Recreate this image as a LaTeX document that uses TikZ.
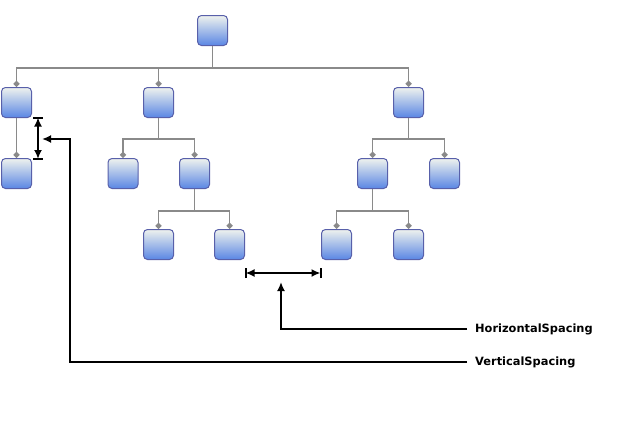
\documentclass[tikz,border=0pt]{standalone}
\usepackage{fontspec}
\setmainfont{DejaVu Sans}
\usetikzlibrary{arrows.meta}
\definecolor{boxtop}{HTML}{EEF2EE}
\definecolor{boxbot}{HTML}{5A86E4}
\definecolor{boxline}{HTML}{5860AA}
\definecolor{conncol}{HTML}{8A8A8A}
\tikzset{
  box/.style={draw=boxline, line width=1pt, rounded corners=4pt, top color=boxtop, bottom color=boxbot,
    minimum width=30pt, minimum height=30pt, inner sep=0pt},
  conn/.style={draw=conncol, line width=1.6pt, -{Diamond[length=6.5pt,width=6.5pt]}},
  dim/.style={draw=black, line width=2pt},
  dimarrow/.style={draw=black, line width=2pt, {Latex[length=9pt,width=8pt]}-{Latex[length=9pt,width=8pt]}},
  pointer/.style={draw=black, line width=2pt, -{Latex[length=9pt,width=8pt]}},
  lbl/.style={font=\bfseries\fontsize{11.4}{13}\selectfont, inner sep=0pt, anchor=west}
}
\begin{document}
\begin{tikzpicture}[x=1pt,y=-1pt]
\useasboundingbox (0,0) rectangle (624,423);
% nodes
\node[box] (r) at (212.5,30.5) {};
\node[box] (a1) at (16.5,102.5) {};
\node[box] (a2) at (158.5,102.5) {};
\node[box] (a3) at (408.5,102.5) {};
\node[box] (b1) at (16.5,173.5) {};
\node[box] (b2) at (123,173.5) {};
\node[box] (b3) at (194.5,173.5) {};
\node[box] (b4) at (372.5,173.5) {};
\node[box] (b5) at (444.5,173.5) {};
\node[box] (c1) at (158.5,244.5) {};
\node[box] (c2) at (229.5,244.5) {};
\node[box] (c3) at (336.5,244.5) {};
\node[box] (c4) at (408.5,244.5) {};
% connectors
\foreach \c in {a1,a2,a3} \draw[conn] (r.south) -- ++(0,22) -| (\c.north);
\draw[conn] (a1.south) -- (b1.north);
\foreach \c in {b2,b3} \draw[conn] (a2.south) -- ++(0,21) -| (\c.north);
\foreach \c in {b4,b5} \draw[conn] (a3.south) -- ++(0,21) -| (\c.north);
\foreach \c in {c1,c2} \draw[conn] (b3.south) -- ++(0,22) -| (\c.north);
\foreach \c in {c3,c4} \draw[conn] (b4.south) -- ++(0,22) -| (\c.north);
% vertical spacing dimension
\coordinate (vt) at (38,117.5);
\coordinate (vb) at (38,159);
\draw[dim] ([xshift=-5pt]vt) -- ([xshift=5pt]vt);
\draw[dim] ([xshift=-5pt]vb) -- ([xshift=5pt]vb);
\draw[dimarrow] (vt) -- (vb);
\coordinate (vc) at (70,139);
\coordinate (vp) at (42,139);
% horizontal spacing dimension
\coordinate (hl) at (245.5,273);
\coordinate (hr) at (320.5,273);
\draw[dim] ([yshift=-5pt]hl) -- ([yshift=5pt]hl);
\draw[dim] ([yshift=-5pt]hr) -- ([yshift=5pt]hr);
\draw[dimarrow] (hl) -- (hr);
\coordinate (hp) at (281,282);
% labels
\node[lbl] (hs) at (475,329) {HorizontalSpacing};
\node[lbl] (vs) at (475,362) {VerticalSpacing};
\draw[pointer] ([xshift=-8pt]hs.west) -| (hp);
\draw[pointer] ([xshift=-8pt]vs.west) -| (vc) -- (vp);
\end{tikzpicture}
\end{document}
